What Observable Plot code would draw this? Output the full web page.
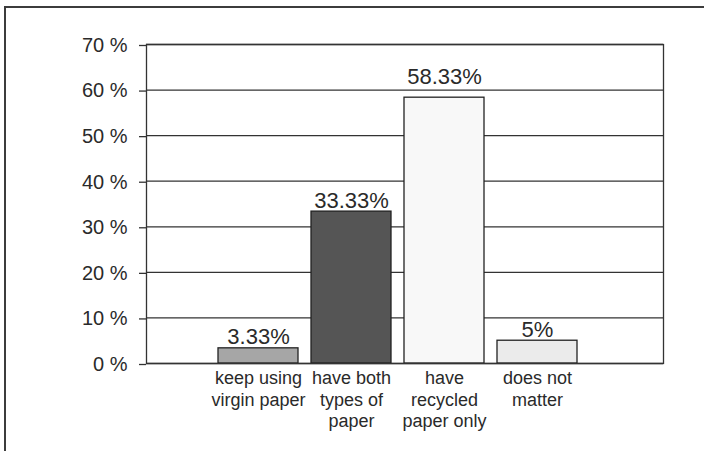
<!DOCTYPE html>
<html>
<head>
<meta charset="utf-8">
<script src="https://cdn.jsdelivr.net/npm/d3@7"></script>
<script src="https://cdn.jsdelivr.net/npm/@observablehq/plot@0.6"></script>
<style>
  html, body { margin: 0; padding: 0; background: #fff; }
  #wrap { position: relative; width: 704px; height: 451px; overflow: hidden; }
  #border { position: absolute; left: 4px; top: 6px; right: -10px; bottom: -10px;
            border-left: 2px solid #3c3c3c; border-top: 2px solid #3c3c3c; pointer-events: none; }
</style>
</head>
<body>
<div id="wrap"><div id="border"></div></div>
<script>
const categories = ["keep using\nvirgin paper", "have both\ntypes of\npaper", "have\nrecycled\npaper only", "does not\nmatter"];
const values = [3.33, 33.33, 58.33, 5];
const yTicks = [0, 10, 20, 30, 40, 50, 60, 70];

const data = categories.map((c, i) => ({category: c, value: values[i]}));

const chart = Plot.plot({
  width: 704,
  height: 451,
  marginLeft: 146,
  marginRight: 41,
  marginTop: 44,
  marginBottom: 88,
  style: {fontFamily: "'Liberation Sans', Arial, sans-serif", color: "#2a2a2a", background: "transparent"},
  x: {type: "band", domain: categories, range: [210, 585.4], paddingInner: 0.144, paddingOuter: 0.072, label: null},
  y: {domain: [0, 70], ticks: yTicks, label: null},
  color: {domain: categories, range: ["#a6a6a6", "#555555", "#f8f8f8", "#ebebeb"]},
  marks: [
    Plot.ruleY(yTicks, {stroke: "#333", strokeWidth: 1.3}),
    Plot.barY(data, {x: "category", y: "value", fill: "category", stroke: "#222", strokeWidth: 1.3}),
    Plot.frame({stroke: "#333", strokeWidth: 1.3}),
    Plot.axisY({ticks: yTicks, tickSize: 7, tickPadding: 12, fontSize: 20, tickFormat: d => d + " %", dy: 1, stroke: "#333", strokeWidth: 1.3, label: null}),
    Plot.axisX({tickSize: 0, tickPadding: 6, fontSize: 18, lineHeight: 1.17, label: null}),
    Plot.text(data, {filter: d => d.value <= 50, x: "category", y: "value", text: d => d.value + "%", lineAnchor: "bottom", dy: -4, fontSize: 22, fill: "#2a2a2a"}),
    Plot.text(data, {filter: d => d.value > 50, x: "category", y: "value", text: d => d.value + "%", lineAnchor: "bottom", dy: -14, fontSize: 22, fill: "#2a2a2a"})
  ]
});
document.getElementById("wrap").prepend(chart);
</script>
</body>
</html>
